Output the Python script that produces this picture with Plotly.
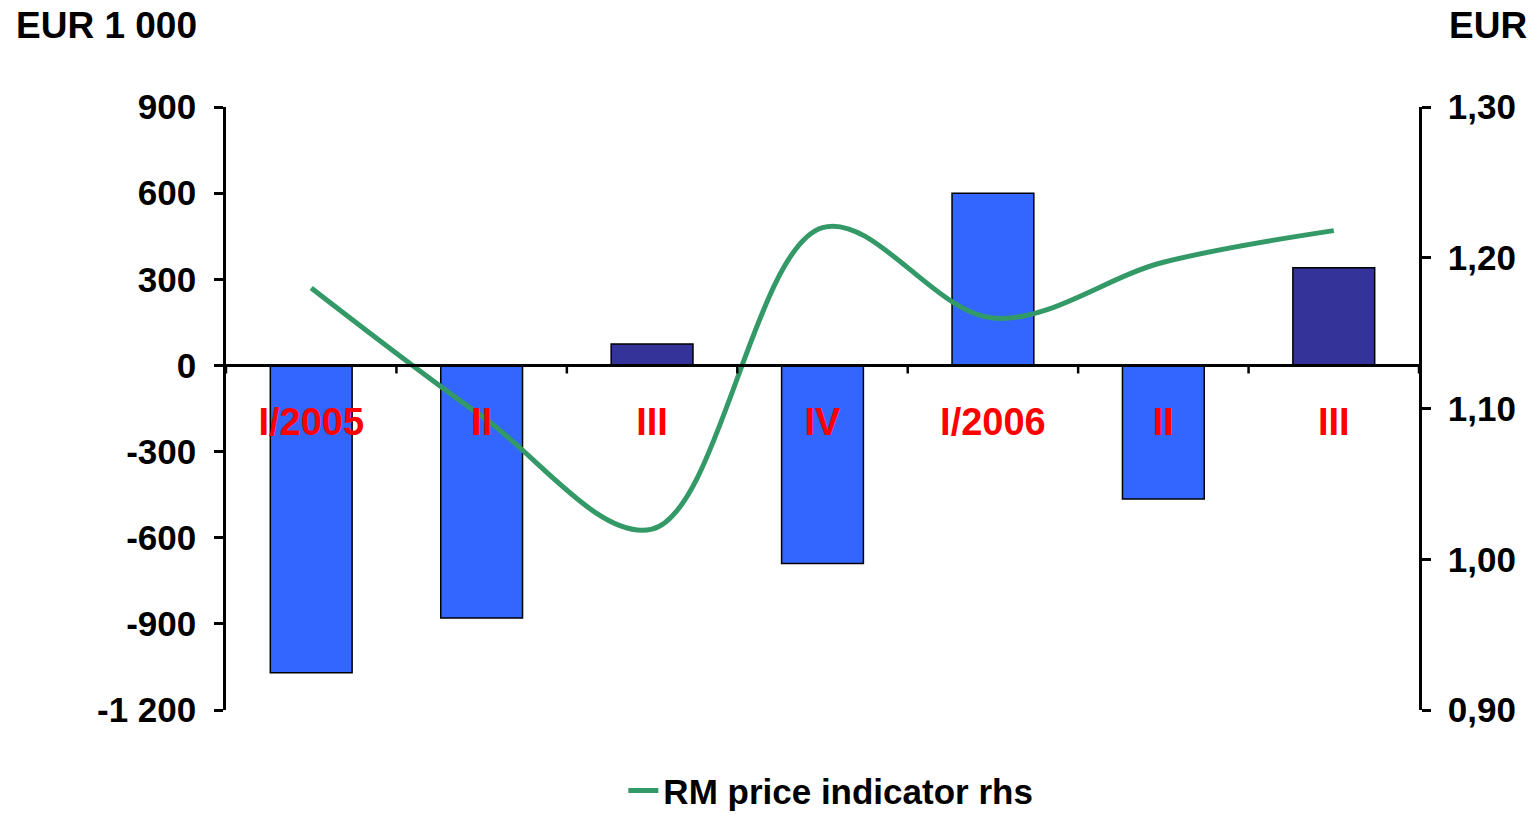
import plotly.graph_objects as go

# Quarterly data
quarters = ["I/2005", "II", "III", "IV", "I/2006", "II", "III"]
flows = [-1070, -880, 75, -690, 600, -465, 340]          # EUR 1 000 (lhs)
price_indicator = [1.18, 1.095, 1.02, 1.22, 1.16, 1.197, 1.218]  # EUR (rhs)
bar_colors = ["#3366FF", "#3366FF", "#333399", "#3366FF", "#3366FF", "#3366FF", "#333399"]

left_ticks = [900, 600, 300, 0, -300, -600, -900, -1200]
left_tick_text = ["900", "600", "300", "0", "-300", "-600", "-900", "-1 200"]
right_ticks = [0.90, 1.00, 1.10, 1.20, 1.30]
right_tick_text = ["0,90", "1,00", "1,10", "1,20", "1,30"]

FONT = "Liberation Sans"
x_idx = list(range(len(quarters)))

fig = go.Figure()
fig.add_trace(go.Bar(
    x=x_idx, y=flows,
    marker=dict(color=bar_colors, line=dict(color="black", width=1.5)),
    showlegend=False, yaxis="y",
))
fig.add_trace(go.Scatter(
    x=x_idx, y=price_indicator, mode="lines",
    line=dict(color="#339966", width=5, shape="spline", smoothing=1.0),
    name="RM price indicator rhs", yaxis="y2",
))

fig.update_layout(
    width=1532, height=815,
    margin=dict(l=226, r=113, t=107, b=105, autoexpand=False),
    paper_bgcolor="white", plot_bgcolor="white",
    bargap=0.52,
    font=dict(family=FONT, size=35, color="black", weight="bold"),
    xaxis=dict(
        type="linear", range=[-0.5, 6.5],
        tickvals=x_idx, ticktext=quarters,
        anchor="free", position=1200 / 2100,
        showline=True, linecolor="black", linewidth=2.5,
        ticks="", showgrid=False, zeroline=False,
        tickfont=dict(family=FONT, size=38, color="#FF0000", weight="bold"),
        ticklabelstandoff=22,
    ),
    yaxis=dict(
        range=[-1200, 900], tickvals=left_ticks, ticktext=left_tick_text,
        showline=True, linecolor="black", linewidth=2.5,
        ticks="outside", ticklen=9, tickwidth=2.5, tickcolor="black",
        showgrid=False, zeroline=False,
        tickfont=dict(family=FONT, size=35, weight="bold"),
        ticklabelstandoff=11,
    ),
    yaxis2=dict(
        range=[0.90, 1.30], tickvals=right_ticks, ticktext=right_tick_text,
        overlaying="y", side="right", anchor="x",
        showline=True, linecolor="black", linewidth=2.5,
        ticks="outside", ticklen=9, tickwidth=2.5, tickcolor="black",
        showgrid=False, zeroline=False,
        tickfont=dict(family=FONT, size=35, weight="bold"),
        ticklabelstandoff=10,
    ),
    legend=dict(
        orientation="h", x=0.507, xanchor="center", y=-0.085, yanchor="top",
        font=dict(family=FONT, size=35, weight="bold"),
        bgcolor="rgba(0,0,0,0)",
    ),
    annotations=[
        dict(text="EUR 1 000", xref="paper", yref="paper", x=-0.178, y=1.135,
             xanchor="left", yanchor="middle", showarrow=False,
             font=dict(family=FONT, size=37, weight="bold")),
        dict(text="EUR", xref="paper", yref="paper", x=1.092, y=1.135,
             xanchor="right", yanchor="middle", showarrow=False,
             font=dict(family=FONT, size=37, weight="bold")),
    ],
)

# Category boundary ticks along the zero line
for b in [i - 0.5 for i in range(len(quarters) + 1)]:
    fig.add_shape(type="line", xref="x", yref="y", x0=b, x1=b, y0=0, y1=-28,
                  line=dict(color="black", width=2.5))

fig.write_html("out.html")
